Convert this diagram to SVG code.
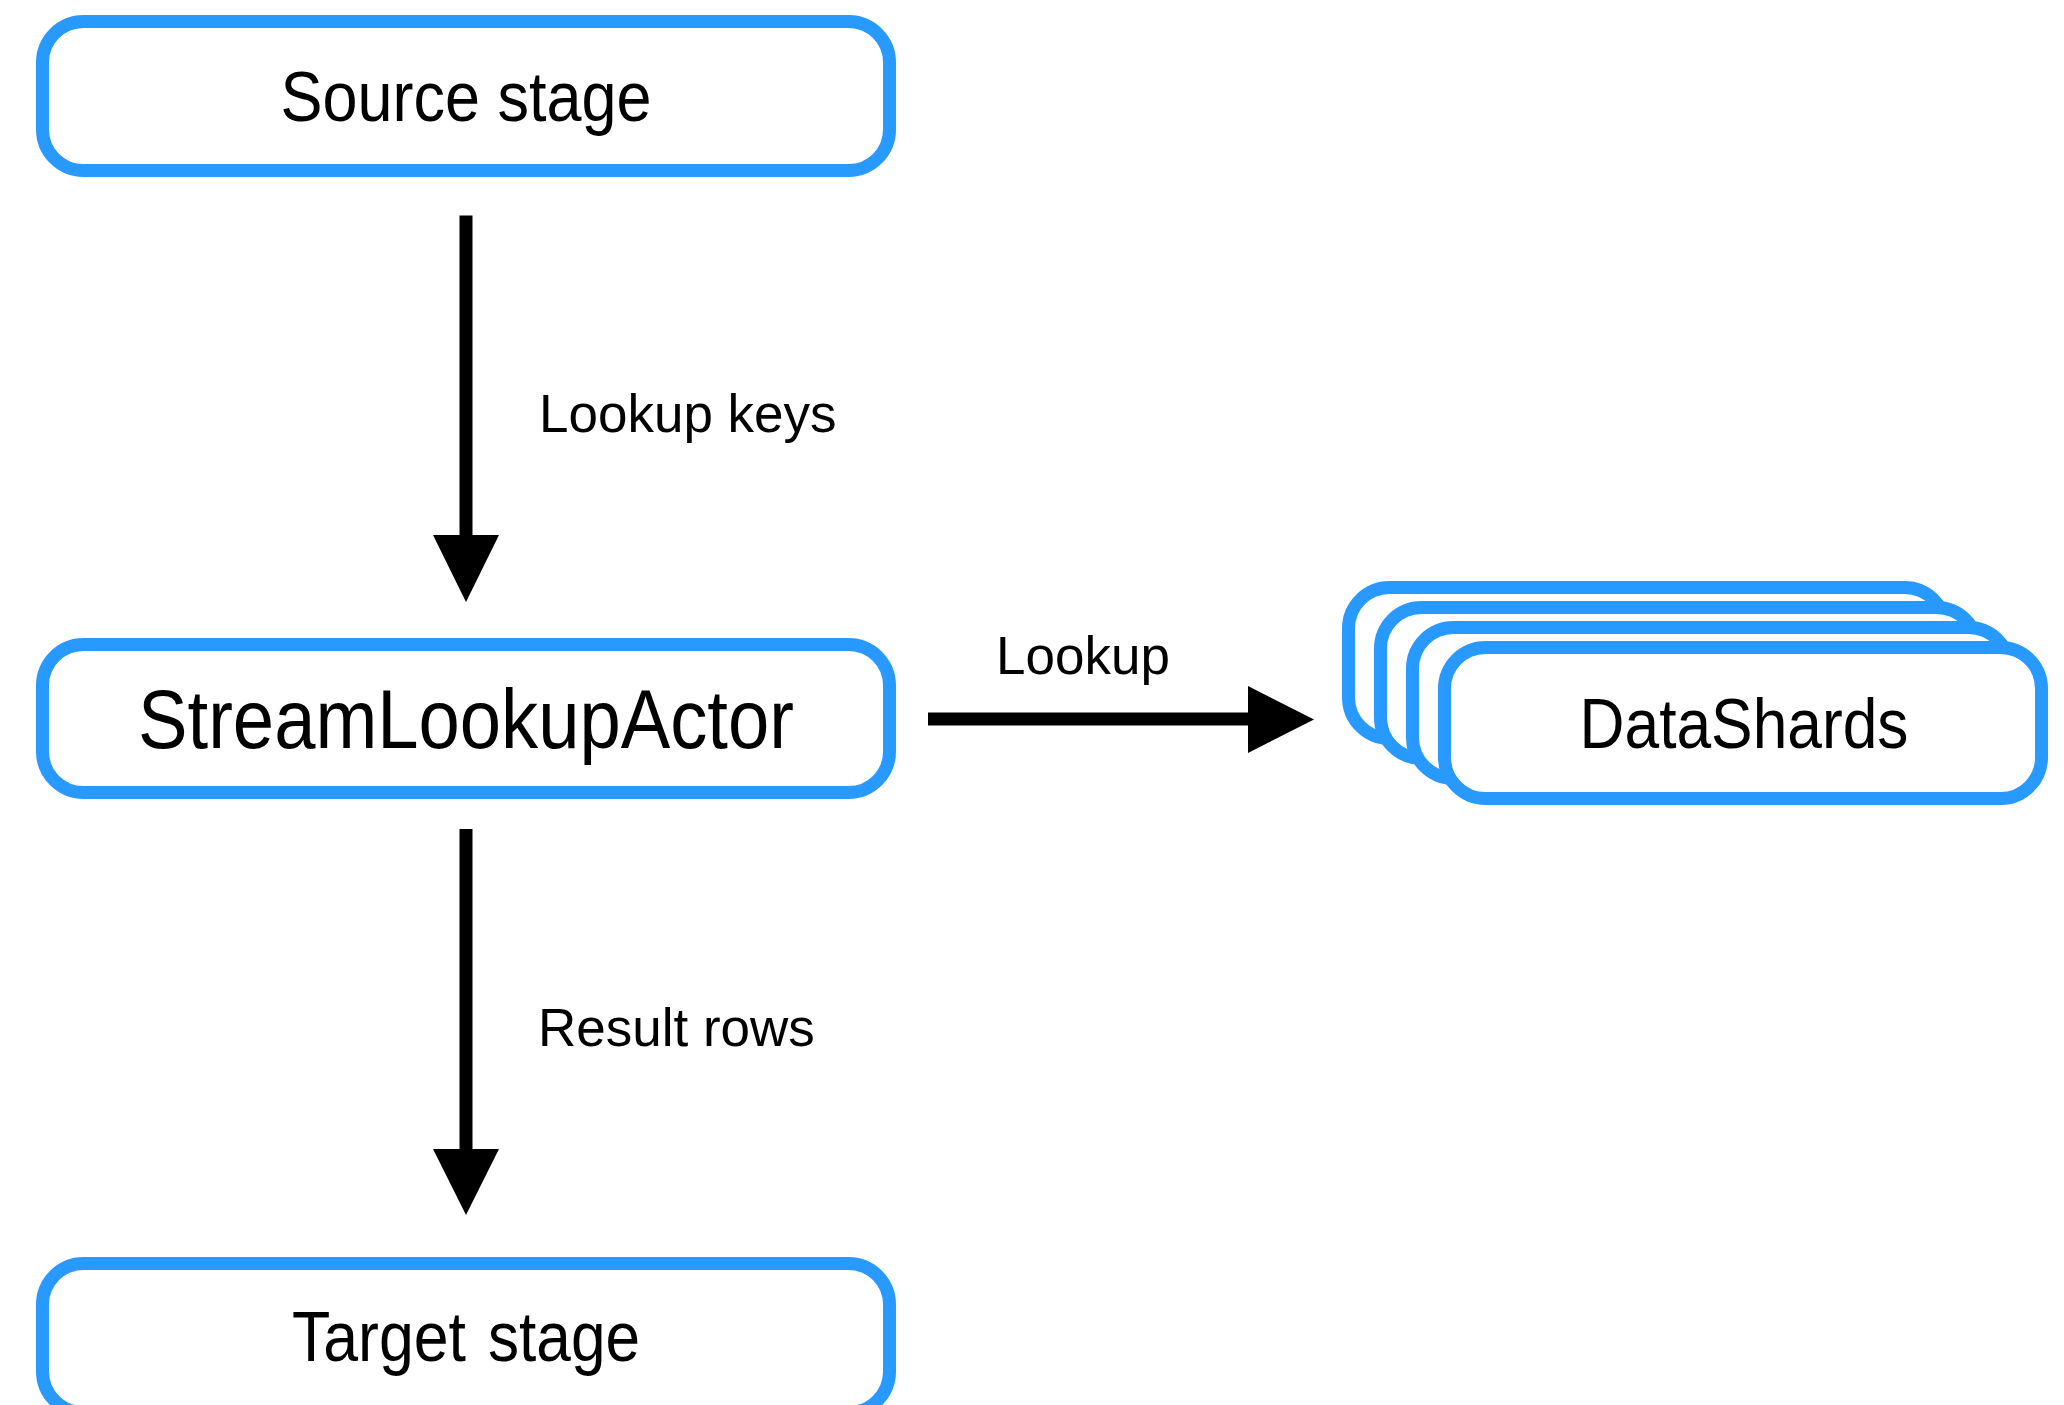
<svg xmlns="http://www.w3.org/2000/svg" xmlns:xlink="http://www.w3.org/1999/xlink" width="2064" height="1405" viewBox="0 0 2064 1405">
  <style>
    .box { fill: #ffffff; stroke: #2899ff; stroke-width: 13; }
    .title { font-family: "Liberation Sans", Arial, sans-serif; fill: #000000; text-anchor: middle; }
    .label { font-family: "Liberation Sans", Arial, sans-serif; font-size: 53px; fill: #000000; }
    .wire { stroke: #000000; stroke-width: 13; fill: none; }
    .head { fill: #000000; }
  </style>
  <defs>
    <rect id="shard" class="box" x="0" y="0" width="597" height="151" rx="41" ry="41"/>
  </defs>
  <rect width="2064" height="1405" fill="#ffffff"/>

  <!-- Stage that feeds lookup keys -->
  <g id="source-stage">
    <rect class="box" x="42.5" y="21.5" width="847" height="149" rx="41" ry="41"/>
    <text class="title" x="466" y="121" font-size="70" textLength="371" lengthAdjust="spacingAndGlyphs">Source stage</text>
  </g>

  <!-- The actor in the middle -->
  <g id="stream-lookup-actor">
    <rect class="box" x="42.5" y="644.5" width="847" height="148" rx="41" ry="41"/>
    <text class="title" x="466" y="748" font-size="84" textLength="656" lengthAdjust="spacingAndGlyphs">StreamLookupActor</text>
  </g>

  <!-- Stage that receives result rows (runs past the bottom edge) -->
  <g id="target-stage">
    <rect class="box" x="42.5" y="1263.5" width="847" height="149" rx="41" ry="41"/>
    <text class="title" x="466" y="1361" font-size="70" style="text-anchor:start"><tspan x="292" textLength="174" lengthAdjust="spacingAndGlyphs">Target</tspan><tspan x="488" textLength="152" lengthAdjust="spacingAndGlyphs">stage</tspan></text>
  </g>

  <!-- Stack of shards, drawn back to front -->
  <g id="datashards">
    <use xlink:href="#shard" x="1348.5" y="587.5"/>
    <use xlink:href="#shard" x="1380.5" y="607.5"/>
    <use xlink:href="#shard" x="1412.5" y="627.5"/>
    <use xlink:href="#shard" x="1444.5" y="647.5"/>
    <text class="title" x="1744" y="748" font-size="70" textLength="329" lengthAdjust="spacingAndGlyphs">DataShards</text>
  </g>

  <g id="connectors">
    <!-- Source stage -> actor -->
    <line class="wire" x1="466" y1="215.5" x2="466" y2="536"/>
    <polygon class="head" points="433,535 499,535 466,602"/>
    <text class="label" x="539" y="432">Lookup keys</text>

    <!-- Actor -> DataShards -->
    <line class="wire" x1="928" y1="719" x2="1249" y2="719"/>
    <polygon class="head" points="1248,686 1248,753 1314,719.5"/>
    <text class="label" x="996" y="674">Lookup</text>

    <!-- Actor -> target stage -->
    <line class="wire" x1="466" y1="829" x2="466" y2="1150"/>
    <polygon class="head" points="433,1149 499,1149 466,1215"/>
    <text class="label" x="538" y="1046">Result rows</text>
  </g>
</svg>
